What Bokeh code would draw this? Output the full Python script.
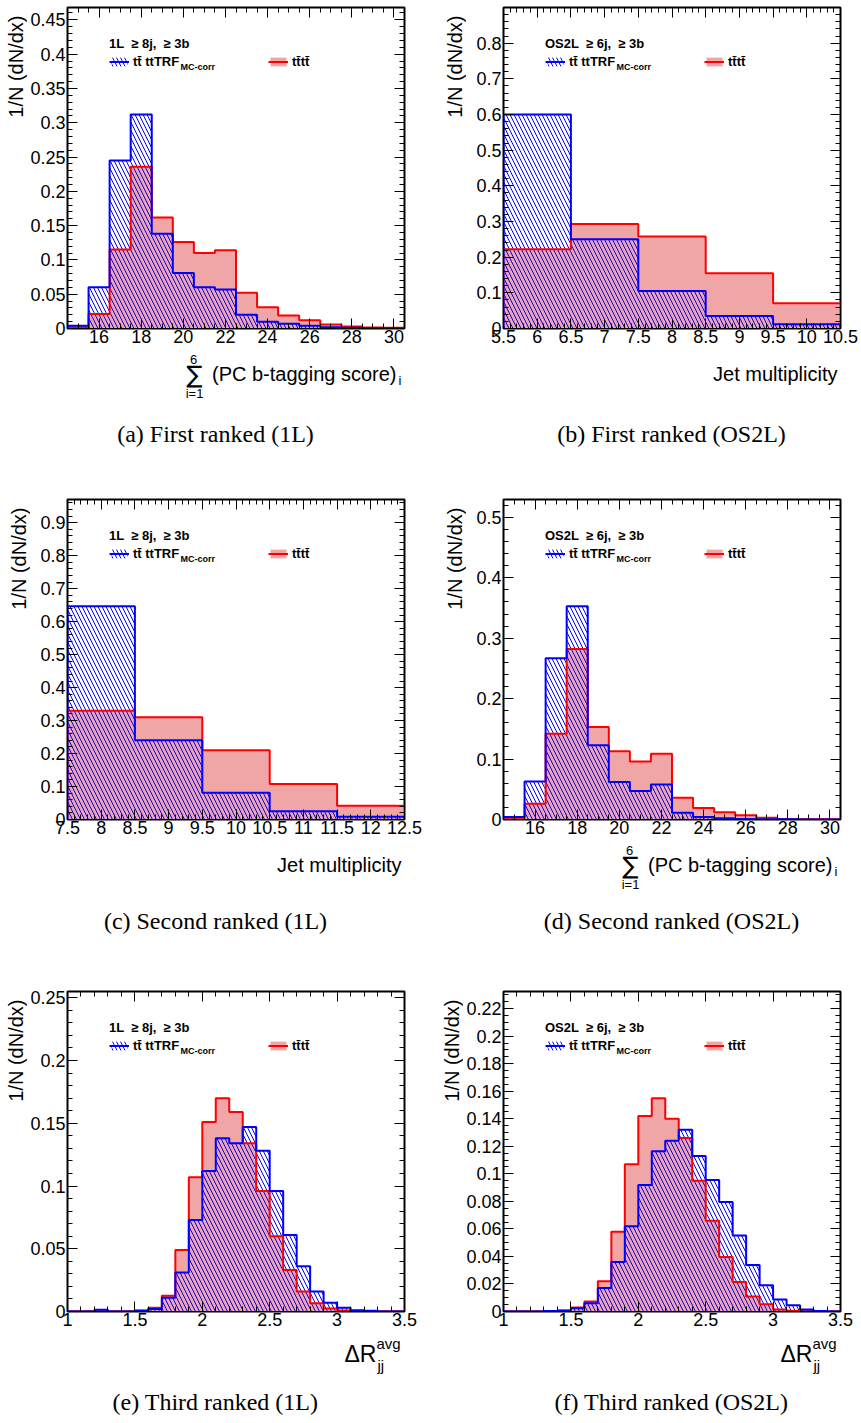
import math
from bokeh.plotting import figure
from bokeh.layouts import column, row
from bokeh.models import (Range1d, SingleIntervalTicker, PrintfTickFormatter,
                          CustomJSTickFormatter, LinearAxis, Label, Legend, LegendItem)
from bokeh.embed import file_html
from bokeh.resources import INLINE

# ---------------- data ----------------
btag_edges = [14.5, 15.5, 16.5, 17.5, 18.5, 19.5, 20.5, 21.5, 22.5, 23.5,
              24.5, 25.5, 26.5, 27.5, 28.5, 29.5, 30.5]
njet_os2l_edges = [5.5, 6.5, 7.5, 8.5, 9.5, 10.5]
njet_1l_edges = [7.5, 8.5, 9.5, 10.5, 11.5, 12.5]
dr_edges = [1.0, 1.1, 1.2, 1.3, 1.4, 1.5, 1.6, 1.7, 1.8, 1.9, 2.0, 2.1, 2.2,
            2.3, 2.4, 2.5, 2.6, 2.7, 2.8, 2.9, 3.0, 3.1, 3.2, 3.3, 3.4, 3.5]

# (a) first ranked 1L : sum of PC b-tagging score
a_tt = [0.004, 0.060, 0.245, 0.312, 0.138, 0.081, 0.060, 0.057, 0.020, 0.010,
        0.007, 0.004, 0.002, 0.001, 0.0005, 0.0003]
a_tttt = [0.002, 0.021, 0.115, 0.236, 0.162, 0.126, 0.110, 0.114, 0.052, 0.031,
          0.019, 0.012, 0.006, 0.003, 0.0015, 0.001]
# (b) first ranked OS2L : jet multiplicity
b_tt = [0.600, 0.250, 0.105, 0.035, 0.012]
b_tttt = [0.222, 0.293, 0.258, 0.155, 0.071]
# (c) second ranked 1L : jet multiplicity
c_tt = [0.647, 0.240, 0.081, 0.025, 0.008]
c_tttt = [0.330, 0.310, 0.210, 0.108, 0.042]
# (d) second ranked OS2L : sum of PC b-tagging score
d_tt = [0.004, 0.063, 0.267, 0.353, 0.123, 0.062, 0.047, 0.058, 0.011, 0.004,
        0.002, 0.001, 0.0005, 0.0003, 0.0002, 0.0001]
d_tttt = [0.003, 0.026, 0.142, 0.282, 0.153, 0.113, 0.096, 0.109, 0.036, 0.019,
          0.012, 0.007, 0.003, 0.001, 0.0005, 0.0003]
# (e) third ranked 1L : Delta R avg jj
e_tt = [0, 0, 0.0013, 0, 0, 0.0005, 0.002, 0.011, 0.031, 0.073, 0.112, 0.138,
        0.134, 0.147, 0.128, 0.096, 0.061, 0.036, 0.016, 0.007, 0.003, 0.001,
        0.0005, 0, 0]
e_tttt = [0, 0, 0, 0, 0, 0.0008, 0.003, 0.0125, 0.049, 0.107, 0.151, 0.170,
          0.159, 0.134, 0.096, 0.060, 0.033, 0.016, 0.0066, 0.0024, 0.0008,
          0.0003, 0, 0, 0]
# (f) third ranked OS2L : Delta R avg jj
f_tt = [0, 0, 0, 0.0003, 0.0007, 0.0024, 0.006, 0.017, 0.036, 0.062, 0.092,
        0.1165, 0.124, 0.132, 0.113, 0.0955, 0.0796, 0.0552, 0.0338, 0.019,
        0.0087, 0.0046, 0.0015, 0.0003, 0]
f_tttt = [0, 0, 0, 0, 0.0005, 0.0029, 0.0072, 0.022, 0.058, 0.107, 0.142,
          0.155, 0.140, 0.126, 0.095, 0.066, 0.0396, 0.0215, 0.0109, 0.0053,
          0.0015, 0.0005, 0, 0, 0]

header_1l = "1L  \u2265 8j,  \u2265 3b"
header_os2l = "OS2L  \u2265 6j,  \u2265 3b"
label_tt = "tt\u0304 ttTRF"
label_tt_sub = "MC-corr"
label_tttt = "tt\u0304tt\u0304"
ylabel = "1/N (dN/dx)"
captions = ["(a) First ranked (1L)", "(b) First ranked (OS2L)",
            "(c) Second ranked (1L)", "(d) Second ranked (OS2L)",
            "(e) Third ranked (1L)", "(f) Third ranked (OS2L)"]

# ---------------- style ----------------
SANS = "Liberation Sans"
SERIF = "Liberation Serif"
BLUE = "#0000ff"
RED = "#ff0000"
PINK = "#f0a6a6"
BB_PLOT = 23   # bottom border of the plot figure (x tick labels)


def outline(edges, vals):
    xs, ys = [edges[0]], [0.0]
    for i, v in enumerate(vals):
        xs += [edges[i], edges[i + 1]]
        ys += [v, v]
    xs.append(edges[-1])
    ys.append(0.0)
    return xs, ys


def make_axis(interval, minor, labels, standoff=1):
    ax = LinearAxis(ticker=SingleIntervalTicker(interval=interval, num_minor_ticks=minor))
    ax.major_tick_in = 10
    ax.major_tick_out = 0
    ax.minor_tick_in = 5
    ax.minor_tick_out = 0
    ax.axis_line_color = "black"
    ax.major_tick_line_color = "black"
    ax.minor_tick_line_color = "black"
    if labels:
        ax.formatter = PrintfTickFormatter(format="%.6g")
        ax.major_label_text_font = SANS
        ax.major_label_text_font_size = "18px"
        ax.major_label_text_color = "black"
        ax.major_label_standoff = standoff
    else:
        ax.formatter = CustomJSTickFormatter(code="return ''")
        ax.major_label_text_font_size = "1px"
        ax.major_label_standoff = 0
    return ax


def lab(p, x, y, text, size, **kw):
    opts = dict(x_units="screen", y_units="screen", text_font=SANS,
                text_color="black", text_baseline="middle")
    opts.update(kw)
    p.add_layout(Label(x=x, y=y, text=text, text_font_size=size, **opts))


def blank(W, H):
    f = figure(width=W, height=H, x_range=Range1d(0, 1), y_range=Range1d(0, 1),
               x_axis_type=None, y_axis_type=None, output_backend="svg",
               toolbar_location=None, min_border=0, title=None)
    f.outline_line_color = None
    f.background_fill_color = "white"
    f.border_fill_color = "white"
    return f


def panel(edges, tt, tttt, xint, xminor, yint, yminor, header, xkind, caption,
          W, H, bl, br, bt, fh, cap_x, cap_dy, bl_plot):
    L1 = bl - bl_plot            # width of the strip holding the y title
    Hp = bt + fh + BB_PLOT       # height of the plotting figure
    Ht = H - Hp                  # height of the strip below (x title, caption)
    fw = W - bl - br
    ymax = 1.5 * max(max(tt), max(tttt))

    p = figure(width=W - L1, height=Hp, x_range=Range1d(edges[0], edges[-1]),
               y_range=Range1d(0, ymax), x_axis_type=None, y_axis_type=None,
               output_backend="svg", toolbar_location=None, title=None,
               min_border_left=bl_plot, min_border_right=br,
               min_border_top=bt, min_border_bottom=BB_PLOT)
    p.outline_line_color = "black"
    p.outline_line_width = 2
    p.outline_line_alpha = 1
    p.background_fill_color = "white"
    p.border_fill_color = "white"
    p.add_layout(make_axis(xint, xminor, True, 1), "below")
    p.add_layout(make_axis(xint, xminor, False), "above")
    p.add_layout(make_axis(yint, yminor, True, 2), "left")
    p.add_layout(make_axis(yint, yminor, False), "right")

    rx, ry = outline(edges, tttt)
    bx, by = outline(edges, tt)
    r_fill = p.patch(rx, ry, fill_color=PINK, fill_alpha=1, line_color=None)
    b_hatch = p.patch(bx, by, fill_color=None, line_color=None,
                      hatch_pattern="\\", hatch_color=BLUE, hatch_scale=8,
                      hatch_weight=1)
    r_line = p.line(rx, ry, line_color=RED, line_width=2)
    b_line = p.line(bx, by, line_color=BLUE, line_width=2)

    leg = Legend(items=[LegendItem(label=label_tt, renderers=[b_hatch, b_line]),
                        LegendItem(label=label_tttt, renderers=[r_fill, r_line])],
                 location=(42, fh - 62), orientation="horizontal",
                 title=header, title_text_font=SANS, title_text_font_size="13px",
                 title_text_font_style="bold", title_text_color="black",
                 title_standoff=3,
                 label_text_font=SANS, label_text_font_size="13px",
                 label_text_font_style="bold", label_text_color="black",
                 glyph_width=20, glyph_height=11, label_height=11,
                 label_width=130, label_standoff=4, spacing=5,
                 padding=0, margin=0, border_line_alpha=0,
                 background_fill_alpha=0)
    p.add_layout(leg)
    lab(p, 113, fh - 59, label_tt_sub, "9px", text_font_style="bold")

    # y-axis title strip (its frame is aligned with the plot frame by the row)
    ys = blank(L1, Hp)
    lab(ys, L1 - 12, fh - 8, ylabel, "20px", angle=math.pi / 2, text_align="right")

    # x-axis title and caption strip
    t = blank(W, Ht)
    FR = bl + fw
    if xkind == "sum":
        lab(t, FR - 210, Ht - 23, "\u2211", "24px", text_align="center", text_font="DejaVu Sans")
        lab(t, FR - 211, Ht - 8, "6", "13px", text_align="center")
        lab(t, FR - 210, Ht - 42, "i=1", "13px", text_align="center")
        lab(t, FR - 8, Ht - 22, "(PC b-tagging score)", "20px", text_align="right")
        lab(t, FR - 6, Ht - 29, "i", "13px")
    elif xkind == "jet":
        lab(t, FR - 3, Ht - 22, "Jet multiplicity", "20px", text_align="right")
    else:
        lab(t, FR - 60, Ht - 19, "\u0394R", "23px")
        lab(t, FR - 28, Ht - 9, "avg", "15px")
        lab(t, FR - 27, Ht - 31, "jj", "15px")
    lab(t, cap_x, Ht - cap_dy, caption, "24px", text_align="center", text_font=SERIF)

    return column(row(ys, p, spacing=0), t, spacing=0)


pa = panel(btag_edges, a_tt, a_tttt, 2, 4, 0.05, 5, header_1l, "sum", captions[0],
           430, 460, 67, 26, 7, 321, 215, 82, 40)
pb = panel(njet_os2l_edges, b_tt, b_tttt, 0.5, 5, 0.1, 5, header_os2l, "jet", captions[1],
           431, 460, 73, 21, 7, 321, 241, 82, 37)
pc = panel(njet_1l_edges, c_tt, c_tttt, 0.5, 5, 0.1, 5, header_1l, "jet", captions[2],
           430, 480, 67, 26, 39, 320, 215, 78, 37)
pd = panel(btag_edges, d_tt, d_tttt, 2, 4, 0.1, 5, header_os2l, "sum", captions[3],
           431, 480, 73, 21, 39, 320, 241, 78, 37)
pe = panel(dr_edges, e_tt, e_tttt, 0.5, 5, 0.05, 5, header_1l, "dr", captions[4],
           430, 483, 67, 26, 51, 320, 215, 67, 40)
pf = panel(dr_edges, f_tt, f_tttt, 0.5, 5, 0.02, 4, header_os2l, "dr", captions[5],
           431, 483, 73, 21, 51, 320, 241, 67, 40)

layout = column(row(pa, pb, spacing=0), row(pc, pd, spacing=0),
                row(pe, pf, spacing=0), spacing=0)

with open("out.html", "w") as fh_:
    fh_.write(file_html(layout, INLINE))
